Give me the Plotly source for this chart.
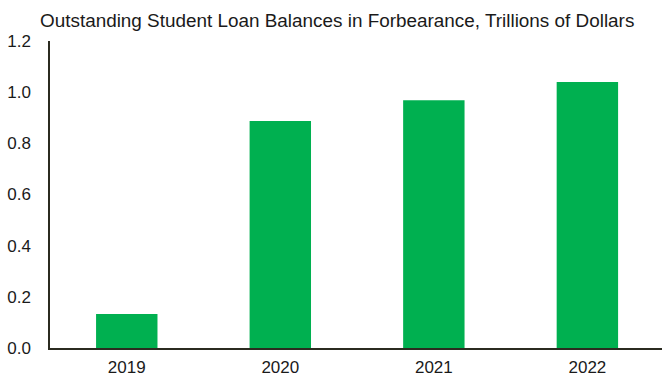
import plotly.graph_objects as go

years = ["2019", "2020", "2021", "2022"]
balances = [0.133, 0.887, 0.968, 1.040]
y_ticks = [0.0, 0.2, 0.4, 0.6, 0.8, 1.0, 1.2]

fig = go.Figure(go.Bar(x=years, y=balances, marker_color="#00B050",
                       marker_line_width=0, width=0.4))

fig.update_layout(
    width=662, height=373,
    margin=dict(l=50, r=0, t=41, b=25),
    plot_bgcolor="white", paper_bgcolor="white",
    font=dict(family="Liberation Sans, Arial", size=17, color="#1a1a1a"),
    title=dict(text="Outstanding Student Loan Balances in Forbearance, Trillions of Dollars",
               xref="container", yref="container", x=40/662, xanchor="left",
               y=1-20/373, yanchor="middle", font=dict(size=18.9, color="#1a1a1a")),
    showlegend=False,
    bargap=0.6,
)
fig.update_xaxes(type="category", range=[-0.5, 3.486], showline=True, linecolor="#2b2b20",
                 linewidth=1.5, ticks="", showgrid=False, ticklabelstandoff=3,
                 automargin=False)
fig.update_yaxes(range=[0, 1.2], tickvals=y_ticks, tickformat=".1f", showline=True,
                 linecolor="#2b2b20", linewidth=1.5, ticks="", showgrid=False,
                 zeroline=False, ticklabelstandoff=14, automargin=False)

fig.write_html("out.html")
